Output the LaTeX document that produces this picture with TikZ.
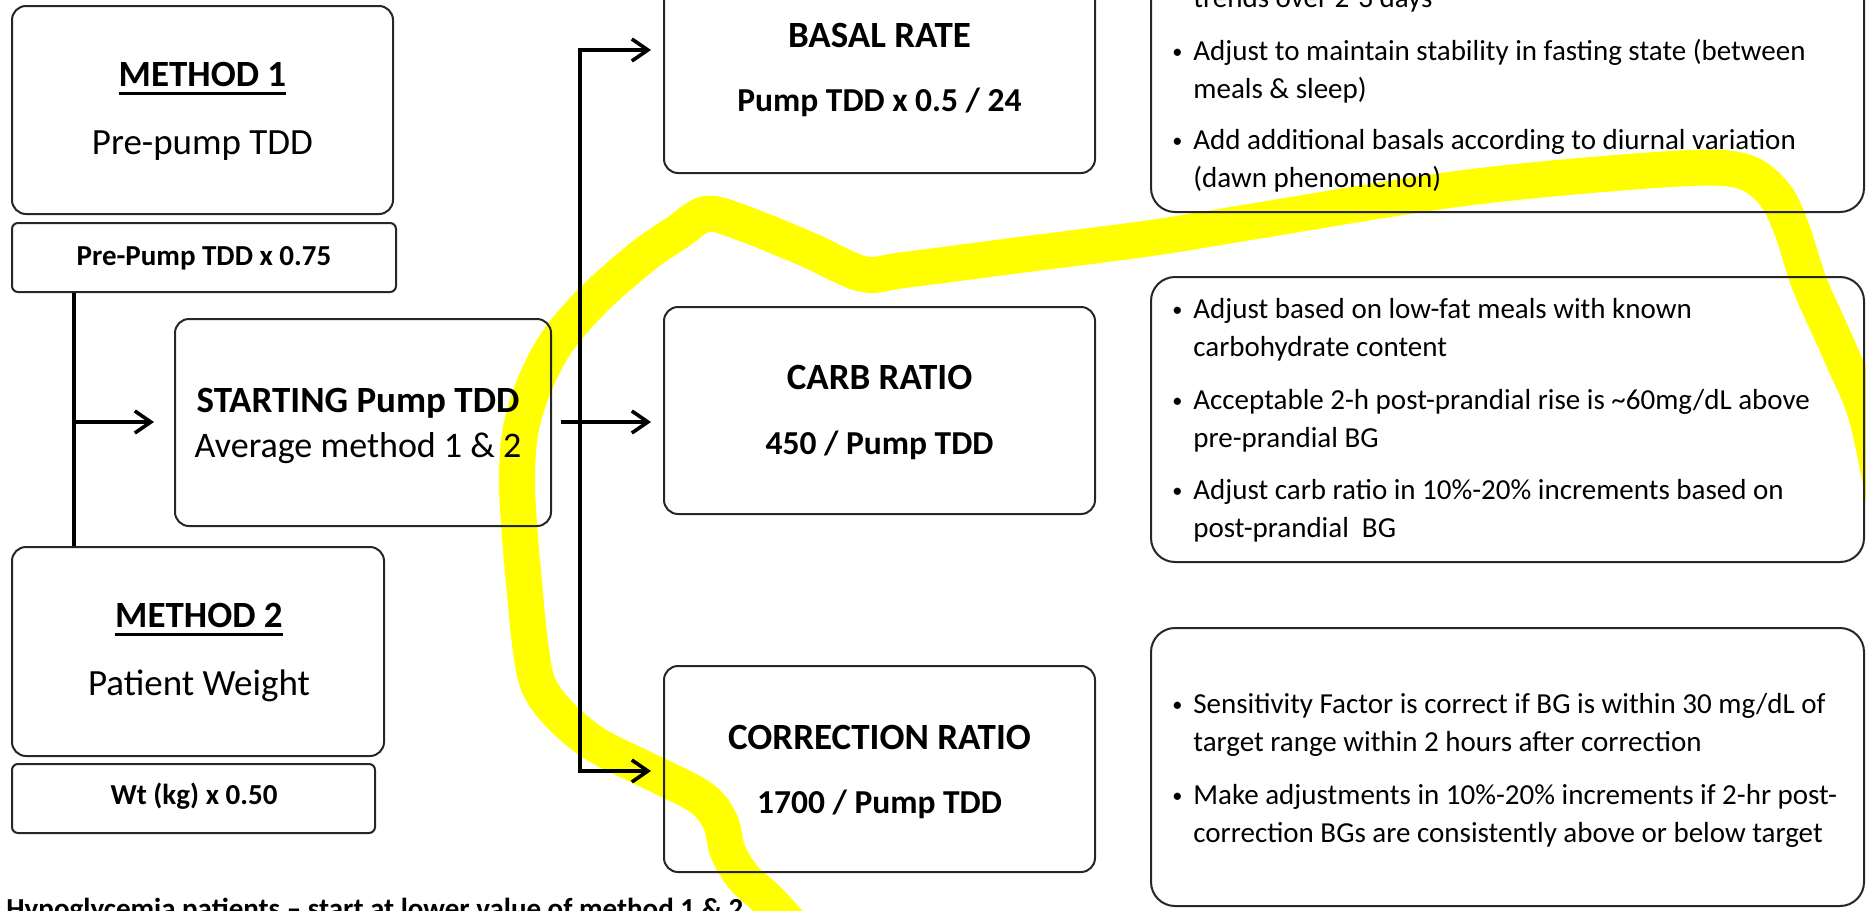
\documentclass[tikz,border=0pt]{standalone}
\usepackage{fontspec}
\usepackage{graphicx}
\setmainfont{Carlito}
\usetikzlibrary{arrows.meta}
\newcommand{\myul}[1]{\setbox0\hbox{#1}\rlap{\rule[-4.5pt]{\wd0}{1.5pt}}\box0}
\newcommand{\smallbul}{\raisebox{0.12ex}{\scalebox{0.7}{\textbullet}}}
\newcommand{\bul}[2]{\makebox[11.5pt][l]{\hspace{1pt}\smallbul}\begin{tabular}[t]{@{}l@{}}#1\\#2\end{tabular}}
\tikzset{
  box/.style={draw=black!85, line width=1pt, rounded corners=7pt, inner sep=0pt},
  smallbox/.style={draw=black!85, line width=1pt, rounded corners=3pt, inner sep=0pt},
  notebox/.style={draw=black!85, line width=1pt, rounded corners=12pt, inner sep=0pt},
  ttl/.style={font=\fontsize{18.5}{22}\selectfont\bfseries, inner sep=0pt, anchor=base},
  subr/.style={font=\fontsize{18.5}{22}\selectfont, inner sep=0pt, anchor=base},
  subb/.style={font=\fontsize{16.75}{20}\selectfont\bfseries, inner sep=0pt, anchor=base},
  formula/.style={font=\fontsize{14.5}{17}\selectfont\bfseries, inner sep=0pt, anchor=base},
  note/.style={font=\fontsize{14.5}{19}\selectfont, inner sep=0pt, anchor=base west},
  conn/.style={line width=1.8pt, black},
  arr/.style={conn, -{Straight Barb[length=8pt,width=11pt]}},
  hilite/.style={line width=18pt, color={rgb,255:red,255;green,255;blue,0}, line join=round}
}
\begin{document}
\begin{tikzpicture}[x=0.5pt, y=-0.5pt]
\useasboundingbox (0,0) rectangle (1866,910);
\clip (0,0) rectangle (1866,910);

% yellow freehand highlight
\draw[hilite] plot[smooth, tension=0.55] coordinates {
 (800,935) (768,900) (744,878) (728,852) (720,821) (700,797) (649,771) (595,744)
 (559,714) (538,684) (530,643) (524,583) (519,524) (517,476) (521,428) (536,381)
 (559,339) (595,298) (643,256) (678,232) (706,214) (740,222) (809,250) (863,274)
 (904,270) (1012,256) (1151,238) (1250,222) (1428,193) (1547,179) (1690,168)
 (1745,172) (1775,195) (1792,230) (1810,285) (1842,357) (1870,430) (1898,600)
 (1905,800) (1890,945) (1700,965) (1500,975)};
\fill[color={rgb,255:red,255;green,255;blue,0}] (704,199) rectangle (730,228);

% left column
\node[box, minimum width=190.5pt, minimum height=104pt] (m1) at (202.5,110) {};
\node[ttl] (m1t) at (202.5,86) {\myul{METHOD 1}};
\node[subr] (m1s) at (202.5,154) {Pre-pump TDD};
\node[smallbox, minimum width=192pt, minimum height=34.5pt] (pre1) at (204,257.5) {};
\node[formula] (pre1t) at (204,265) {Pre-Pump TDD x 0.75};

\node[box, minimum width=186pt, minimum height=104.5pt] (m2) at (198,651.5) {};
\node[ttl] (m2t) at (199,627) {\myul{METHOD 2}};
\node[subr] (m2s) at (199,695) {Patient Weight};
\node[smallbox, minimum width=181.5pt, minimum height=34.5pt] (wt) at (193.5,798.5) {};
\node[formula] (wtt) at (194,804) {Wt (kg) x 0.50};

\node[box, minimum width=188pt, minimum height=103.5pt] (start) at (363,422.5) {};
\node[ttl] (startt) at (358,412) {STARTING Pump TDD};
\node[font=\fontsize{18}{22}\selectfont, inner sep=0pt, anchor=base] (starts) at (358,457) {Average method 1 \& 2};

% middle column
\node[box, minimum width=215.5pt, minimum height=104.5pt] (basal) at (879.5,68.5) {};
\node[ttl] (basalt) at (879.5,47) {BASAL RATE};
\node[subb] (basals) at (879.5,111) {Pump TDD x 0.5 / 24};

\node[box, minimum width=215.5pt, minimum height=103.5pt] (carb) at (879.5,410.5) {};
\node[ttl] (carbt) at (879.5,389) {CARB RATIO};
\node[subb] (carbs) at (879.5,454) {450 / Pump TDD};

\node[box, minimum width=215.5pt, minimum height=103pt] (corr) at (879.5,769) {};
\node[ttl] (corrt) at (879.5,749) {CORRECTION RATIO};
\node[subb] (corrs) at (879.5,813) {1700 / Pump TDD};

% right column
\node[notebox, minimum width=356.5pt, minimum height=126pt] (n1) at (1507.5,86) {};
\node[note] (n1a) at (1193,7) {trends over 2-3 days};
\node[note] (n1b) at (1170,60) {\bul{Adjust to maintain stability in fasting state (between}{meals \& sleep)}};
\node[note] (n1c) at (1170,149) {\bul{Add additional basals according to diurnal variation}{(dawn phenomenon)}};

\node[notebox, minimum width=356.5pt, minimum height=142.5pt] (n2) at (1507.5,419.5) {};
\node[note] (n2a) at (1170,318) {\bul{Adjust based on low-fat meals with known}{carbohydrate content}};
\node[note] (n2b) at (1170,409) {\bul{Acceptable 2-h post-prandial rise is \textasciitilde60mg/dL above}{pre-prandial BG}};
\node[note] (n2c) at (1170,499) {\bul{Adjust carb ratio in 10\%-20\% increments based on}{post-prandial\ \ BG}};

\node[notebox, minimum width=356.5pt, minimum height=139pt] (n3) at (1507.5,767) {};
\node[note] (n3a) at (1170,713) {\bul{Sensitivity Factor is correct if BG is within 30 mg/dL of}{target range within 2 hours after correction}};
\node[note] (n3b) at (1170,804) {\bul{Make adjustments in 10\%-20\% increments if 2-hr post-}{correction BGs are consistently above or below target}};

% footer
\node[font=\fontsize{14.5}{17}\selectfont\bfseries, inner sep=0pt, anchor=base west] (hypo) at (6,918) {Hypoglycemia patients -- start at lower value of method 1 \& 2};

% connectors
\coordinate (j1) at (74,422);
\coordinate (j2) at (580,422);
\coordinate (jb) at (580,50);
\coordinate (jc) at (580,771);
\draw[conn] (pre1.south -| j1) -- (m2.north -| j1);
\draw[arr] (j1) -- ([xshift=-10pt]start.west |- j1);
\draw[arr] ([xshift=4.5pt]start.east |- j2) -- ([xshift=-6pt]carb.west |- j2);
\draw[arr] (jc) -- (jb) -- ([xshift=-6pt]basal.west |- jb);
\draw[arr] (jb) -- (jc) -- ([xshift=-6pt]corr.west |- jc);
\end{tikzpicture}
\end{document}
